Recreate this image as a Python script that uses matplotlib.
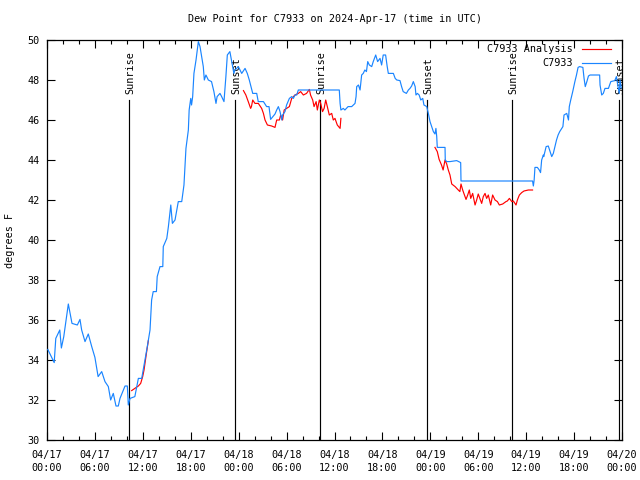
import numpy as np
import pandas as pd
import matplotlib
matplotlib.use("Agg")
import matplotlib.pyplot as plt
import matplotlib.dates as mdates
from matplotlib.lines import Line2D

# ---------------- data (hours after 2024-04-17 00:00 UTC) ----------------
obs_hours = [0.1, 0.9, 1.1, 1.6, 1.8, 2.1, 2.4, 2.67, 3.13, 3.8, 4.13, 4.34, 4.76, 5.17, 5.6, 6.0, 6.3, 6.4,
             6.85, 7.26, 7.68, 7.97, 8.3, 8.64, 8.93, 9.14, 9.77, 10.06, 10.18, 10.4, 11.0, 11.44, 11.86,
             12.27, 12.56, 12.9, 13.1, 13.3, 13.7, 13.8, 14.15, 14.5, 14.56, 15.0, 15.2, 15.5, 15.7, 16.03,
             16.44, 16.87, 17.15, 17.4, 17.7, 17.8, 18.0, 18.1, 18.24, 18.4, 18.66, 18.95, 19.16, 19.37,
             19.57, 19.7, 19.9, 20.2, 20.6, 20.9, 21.16, 21.3, 21.66, 21.87, 22.16, 22.4, 22.58, 22.9,
             23.25, 23.4, 23.54, 23.96, 24.38, 24.8, 25.08, 25.33, 25.6, 25.76, 26.26, 26.45, 27.1, 27.5,
             27.8, 28.0, 28.34, 28.55, 28.76, 28.97, 29.18, 29.4, 29.5, 29.8, 30.0, 30.35, 30.64, 30.85,
             31.05, 31.27, 31.47, 36.6, 36.7, 36.8, 37.1, 37.3, 37.7, 38.15, 38.57, 38.7, 38.78, 39.0,
             39.2, 39.4, 39.6, 39.8, 40.0, 40.16, 40.36, 40.66, 40.85, 41.16, 41.4, 41.7, 41.9, 42.1,
             42.4, 42.6, 42.74, 43.37, 43.6, 43.8, 44.2, 44.4, 44.6, 45.0, 45.25, 45.45, 45.66, 45.87,
             46.1, 46.2, 46.38, 46.6, 46.8, 47.05, 47.2, 47.55, 47.75, 47.96, 48.17, 48.38, 48.58, 48.7,
             48.8, 48.87, 49.84, 49.87, 50.05, 50.46, 51.3, 51.8, 51.84, 60.8, 60.9, 61.0, 61.1, 61.4,
             61.64, 61.8, 61.94, 62.15, 62.2, 62.5, 62.77, 63.0, 63.2, 63.4, 63.6, 63.8, 64.0, 64.2,
             64.6, 64.74, 65.08, 65.3, 65.4, 65.58, 65.83, 66.1, 66.3, 66.5, 66.7, 67.1, 67.25, 67.4,
             67.6, 67.8, 68.0, 69.2, 69.25, 69.46, 69.66, 69.87, 70.3, 70.6, 71.1, 71.3, 71.5, 71.66,
             71.75, 71.9]
obs_values = [34.53, 33.87, 35.08, 35.5, 34.6, 35.17, 36.03, 36.8, 35.83, 35.75, 36.03, 35.5, 34.92, 35.3,
              34.67, 34.13, 33.42, 33.17, 33.42, 32.92, 32.67, 32.0, 32.33, 31.7, 31.7, 32.08, 32.7, 32.7,
              31.75, 32.08, 32.17, 33.08, 33.08, 34.0, 34.67, 35.5, 37.0, 37.42, 37.42, 38.17, 38.67,
              38.67, 39.67, 40.08, 40.67, 41.75, 40.83, 41.0, 41.92, 41.92, 42.75, 44.58, 45.5, 46.5,
              47.08, 46.75, 47.17, 48.33, 49.0, 49.92, 49.67, 49.17, 48.67, 48.0, 48.25, 48.0, 47.92,
              47.42, 46.83, 47.17, 47.33, 47.17, 46.92, 48.17, 49.25, 49.42, 48.67, 48.33, 48.5, 48.67,
              48.33, 48.58, 48.33, 48.0, 47.58, 47.33, 47.33, 46.92, 46.92, 46.67, 46.67, 46.03, 46.2,
              46.3, 46.5, 46.67, 46.42, 46.0, 46.25, 46.42, 46.75, 47.08, 47.17, 47.08, 47.25, 47.25,
              47.5, 47.5, 46.83, 46.5, 46.58, 46.5, 46.67, 46.67, 46.83, 47.17, 47.67, 47.75, 47.5,
              48.25, 48.33, 48.5, 48.42, 48.92, 48.75, 48.67, 48.92, 49.25, 48.92, 49.08, 48.75, 49.25,
              49.25, 48.67, 48.33, 48.33, 48.08, 48.0, 47.97, 47.67, 47.42, 47.33, 47.5, 47.58, 47.7,
              47.92, 47.67, 47.25, 47.33, 47.25, 47.0, 47.08, 46.75, 46.67, 46.33, 45.92, 45.67, 45.42,
              45.3, 45.58, 45.17, 44.63, 44.63, 44.0, 43.92, 43.92, 43.97, 43.87, 42.95, 42.95, 42.7,
              43.0, 43.63, 43.63, 43.5, 43.37, 44.0, 44.25, 44.17, 44.67, 44.7, 44.42, 44.17, 44.33,
              44.67, 45.0, 45.25, 45.42, 45.67, 46.25, 46.33, 46.0, 46.67, 47.0, 47.42, 47.92, 48.25,
              48.63, 48.67, 48.63, 48.08, 47.67, 47.92, 48.2, 48.25, 48.25, 47.75, 47.25, 47.33, 47.58,
              47.58, 47.92, 47.97, 48.17, 47.67, 47.33, 48.0, 47.6]

ana_hours = [10.6, 11.0, 11.44, 11.73, 11.98, 12.15, 12.3, 12.48, 12.69, 12.7,
             24.6, 24.9, 25.2, 25.5, 25.6, 25.76, 26.04, 26.46, 26.88, 27.1, 27.3, 27.6, 28.13, 28.55,
             28.76, 29.1, 29.26, 29.5, 29.7, 30.0, 30.35, 30.64, 31.05, 31.47, 31.76, 32.1, 32.5, 32.85,
             33.0, 33.27, 33.44, 33.7, 33.85, 34.1, 34.27, 34.5, 34.7, 34.9, 35.1, 35.35, 35.65, 35.85,
             36.06, 36.35, 36.7, 36.8, 36.9,
             48.58, 48.87, 49.1, 49.4, 49.6, 49.84, 50.05, 50.25, 50.46, 50.68, 51.1, 51.5, 51.7, 51.84,
             52.05, 52.2, 52.47, 52.68, 52.88, 53.06, 53.3, 53.6, 53.8, 54.0, 54.2, 54.43, 54.63, 54.85,
             55.05, 55.26, 55.56, 55.8, 56.1, 56.4, 56.64, 57.06, 57.47, 57.64, 57.9, 58.2, 58.4, 58.73,
             58.9, 59.15, 59.44, 59.73, 60.27, 60.8]
ana_values = [32.47, 32.58, 32.7, 32.83, 33.17, 33.5, 33.92, 34.42, 34.97, np.nan,
              47.47, 47.25, 46.92, 46.58, 46.67, 47.0, 46.83, 46.83, 46.58, 46.33, 46.0, 45.75, 45.7,
              45.63, 46.0, 46.0, 46.25, 46.0, 46.5, 46.58, 46.67, 47.08, 47.25, 47.33, 47.42, 47.25,
              47.33, 47.53, 47.25, 47.0, 46.67, 46.92, 46.5, 47.0, 46.83, 46.42, 46.58, 47.0, 46.67,
              46.25, 46.33, 46.0, 46.08, 45.75, 45.58, 46.08, np.nan,
              44.63, 44.42, 44.03, 43.75, 43.5, 44.0, 43.8, 43.5, 43.25, 42.8, 42.67, 42.5, 42.42, 42.8,
              42.5, 42.33, 42.03, 42.25, 42.5, 42.08, 42.33, 41.75, 42.0, 42.3, 42.08, 41.83, 42.17,
              42.33, 42.08, 42.25, 41.75, 42.25, 42.0, 41.92, 41.75, 41.8, 41.92, 41.95, 42.08, 41.92,
              41.95, 41.75, 42.0, 42.25, 42.37, 42.45, 42.5, 42.5]

sun_hours = [10.28, 23.6, 34.22, 47.62, 58.24, 71.66]
sun_labels = ["Sunrise", "Sunset", "Sunrise", "Sunset", "Sunrise", "Sunset"]

series_names = ["C7933 Analysis", "C7933"]
series_colors = ["#ff0000", "#1a85ff"]

title = "Dew Point for C7933 on 2024-Apr-17 (time in UTC)"
ylabel = "degrees F"

# ---------------- plotting ----------------
base = pd.Timestamp("2024-04-17 00:00")
def to_time(hrs):
    return base + pd.to_timedelta(np.asarray(hrs, dtype=float), unit="h")

font = "DejaVu Sans Mono"
fs = 7.3
plt.rcParams["font.family"] = font

fig = plt.figure(figsize=(6.4, 4.8), dpi=100)
ax = fig.add_axes([47 / 640, 1 - 440 / 480, (622 - 47) / 640, 400 / 480])

lw = 0.85
ax.plot(to_time(ana_hours), ana_values, color=series_colors[0], lw=lw, zorder=3)
ax.plot(to_time(obs_hours), obs_values, color=series_colors[1], lw=lw, zorder=4)

for h, lab in zip(sun_hours, sun_labels):
    t = to_time([h])[0]
    ax.plot([t, t], [30, 47.0], color="black", lw=lw, zorder=2)
    ax.annotate(lab, xy=(t, 47.0), xytext=(1, 4), textcoords="offset points",
                rotation=90, ha="center", va="bottom", fontsize=fs, family=font)

ax.set_xlim(base, base + pd.Timedelta(hours=72))
ax.set_ylim(30, 50)
ax.set_yticks(np.arange(30, 51, 2))
ax.yaxis.set_major_formatter(matplotlib.ticker.FormatStrFormatter("%d"))
ax.xaxis.set_major_locator(mdates.HourLocator(byhour=[0, 6, 12, 18]))
ax.xaxis.set_minor_locator(mdates.HourLocator(byhour=range(0, 24, 2)))
ax.xaxis.set_major_formatter(mdates.DateFormatter("%m/%d\n%H:%M"))

ax.tick_params(axis="both", which="both", direction="in", top=True, right=True,
               labelsize=fs, width=0.8)
ax.tick_params(axis="both", which="major", length=6)
ax.tick_params(axis="both", which="minor", length=3)
ax.tick_params(axis="x", pad=7)
ax.tick_params(axis="y", pad=5)
for lab in ax.get_xticklabels():
    lab.set_linespacing(1.45)
for sp in ax.spines.values():
    sp.set_linewidth(0.9)

ax.set_title(title, fontsize=fs, pad=13, family=font)
ax.set_ylabel(ylabel, fontsize=fs, labelpad=9, family=font)

# legend drawn like gnuplot: right-aligned text with sample line to the right
leg_y = [0.9775, 0.9425]
for name, col, yy in zip(series_names, series_colors, leg_y):
    ax.text(0.915, yy, name, transform=ax.transAxes, ha="right", va="center",
            fontsize=fs, family=font)
    ax.add_line(Line2D([0.931, 0.980], [yy, yy], transform=ax.transAxes,
                       color=col, lw=lw))

fig.savefig("out.png", dpi=100)
